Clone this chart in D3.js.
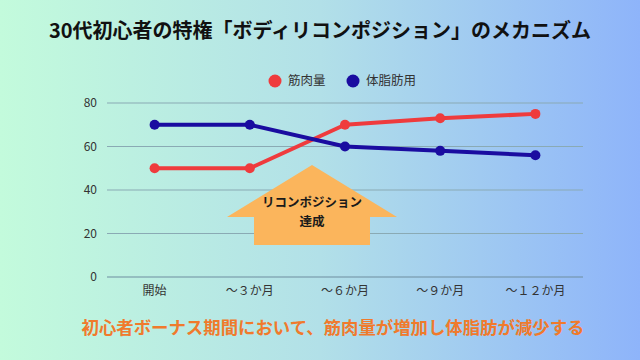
<!DOCTYPE html>
<html><head><meta charset="utf-8">
<script src="https://cdn.jsdelivr.net/npm/d3@7"></script>
<style>html,body{margin:0;padding:0;}svg{display:block;}</style>
</head><body>
<svg id="chart" width="640" height="360"></svg>
<script>
const categories = ["開始", "～３か月", "～６か月", "～９か月", "～１２か月"];
const muscle = [50, 50, 70, 73, 75];
const fat = [70, 70, 60, 58, 56];
const yTicks = [0, 20, 40, 60, 80];
const seriesNames = ["筋肉量", "体脂肪用"];
const title = "30代初心者の特権「ボディリコンポジション」のメカニズム";
const caption = "初心者ボーナス期間において、筋肉量が増加し体脂肪が減少する";
const arrowLabel = ["リコンポジション", "達成"];

const W = 640, H = 360;
const svg = d3.select("#chart");
const font = "'Noto Sans CJK JP', 'Noto Sans', sans-serif";

const defs = svg.append("defs");
const grad = defs.append("linearGradient").attr("id", "bg").attr("x1", "0").attr("x2", "1").attr("y1", "0").attr("y2", "0");
grad.append("stop").attr("offset", "0%").attr("stop-color", "#c3fbdc");
grad.append("stop").attr("offset", "50%").attr("stop-color", "#b2e0e8");
grad.append("stop").attr("offset", "100%").attr("stop-color", "#8eb4fa");
svg.append("rect").attr("width", W).attr("height", H).attr("fill", "url(#bg)");

const x = d3.scaleBand().domain(categories).range([107, 583]);
const y = d3.scaleLinear().domain([0, 80]).range([277, 103]);

// grid
svg.append("g").selectAll("line").data(yTicks).join("line")
  .attr("x1", 107).attr("x2", 583)
  .attr("y1", d => y(d)).attr("y2", d => y(d))
  .attr("stroke", d => d === 0 ? "#6f8ea0" : "#8aaab4").attr("stroke-width", 1.2);

// y labels
svg.append("g").selectAll("text").data(yTicks).join("text")
  .attr("x", 97).attr("y", d => y(d)).attr("dy", "0.35em")
  .attr("text-anchor", "end").attr("font-family", font).attr("font-size", 12)
  .attr("fill", "#333").text(d => d);

// x labels
svg.append("g").selectAll("text").data(categories).join("text")
  .attr("x", d => x(d) + x.bandwidth() / 2).attr("y", 291).attr("dy", "0.35em")
  .attr("text-anchor", "middle").attr("font-family", font).attr("font-size", 12)
  .attr("fill", "#333").text(d => d);

// arrow
const arrow = [[312,165],[397,217],[370,217],[370,245],[254,245],[254,217],[227,217]];
svg.append("path").attr("d", d3.line()(arrow) + "Z").attr("fill", "#fbb55c");
svg.append("g").selectAll("text").data(arrowLabel).join("text")
  .attr("x", 312).attr("y", (d, i) => 203 + i * 19).attr("dy", "0.35em")
  .attr("text-anchor", "middle").attr("font-family", font).attr("font-size", 12.5)
  .attr("font-weight", "bold").attr("fill", "#1a1a1a").text(d => d);

// lines
const series = [{name: seriesNames[0], values: muscle, color: "#ef3b3d"},
                {name: seriesNames[1], values: fat, color: "#1a0ca0"}];
const line = d3.line().x((d, i) => x(categories[i]) + x.bandwidth() / 2).y(d => y(d));
series.forEach(s => {
  svg.append("path").attr("d", line(s.values)).attr("fill", "none")
    .attr("stroke", s.color).attr("stroke-width", 4).attr("stroke-linejoin", "round");
  svg.append("g").selectAll("circle").data(s.values).join("circle")
    .attr("cx", (d, i) => x(categories[i]) + x.bandwidth() / 2).attr("cy", d => y(d))
    .attr("r", 5).attr("fill", s.color);
});

// legend
const legX = [275, 353];
series.forEach((s, i) => {
  svg.append("circle").attr("cx", legX[i]).attr("cy", 81).attr("r", 6.5).attr("fill", s.color);
  svg.append("text").attr("x", legX[i] + 13).attr("y", 81).attr("dy", "0.35em")
    .attr("font-family", font).attr("font-size", 12.5).attr("fill", "#333").text(s.name);
});

// title
svg.append("text").attr("x", 320).attr("y", 31).attr("dy", "0.35em")
  .attr("text-anchor", "middle").attr("font-family", font).attr("font-size", 20)
  .attr("font-weight", "bold").attr("fill", "#111").text(title);

// caption
svg.append("text").attr("x", 333).attr("y", 328).attr("dy", "0.35em")
  .attr("text-anchor", "middle").attr("font-family", font).attr("font-size", 17.4)
  .attr("font-weight", "bold").attr("fill", "#f07a2c").text(caption);
</script>
</body></html>
